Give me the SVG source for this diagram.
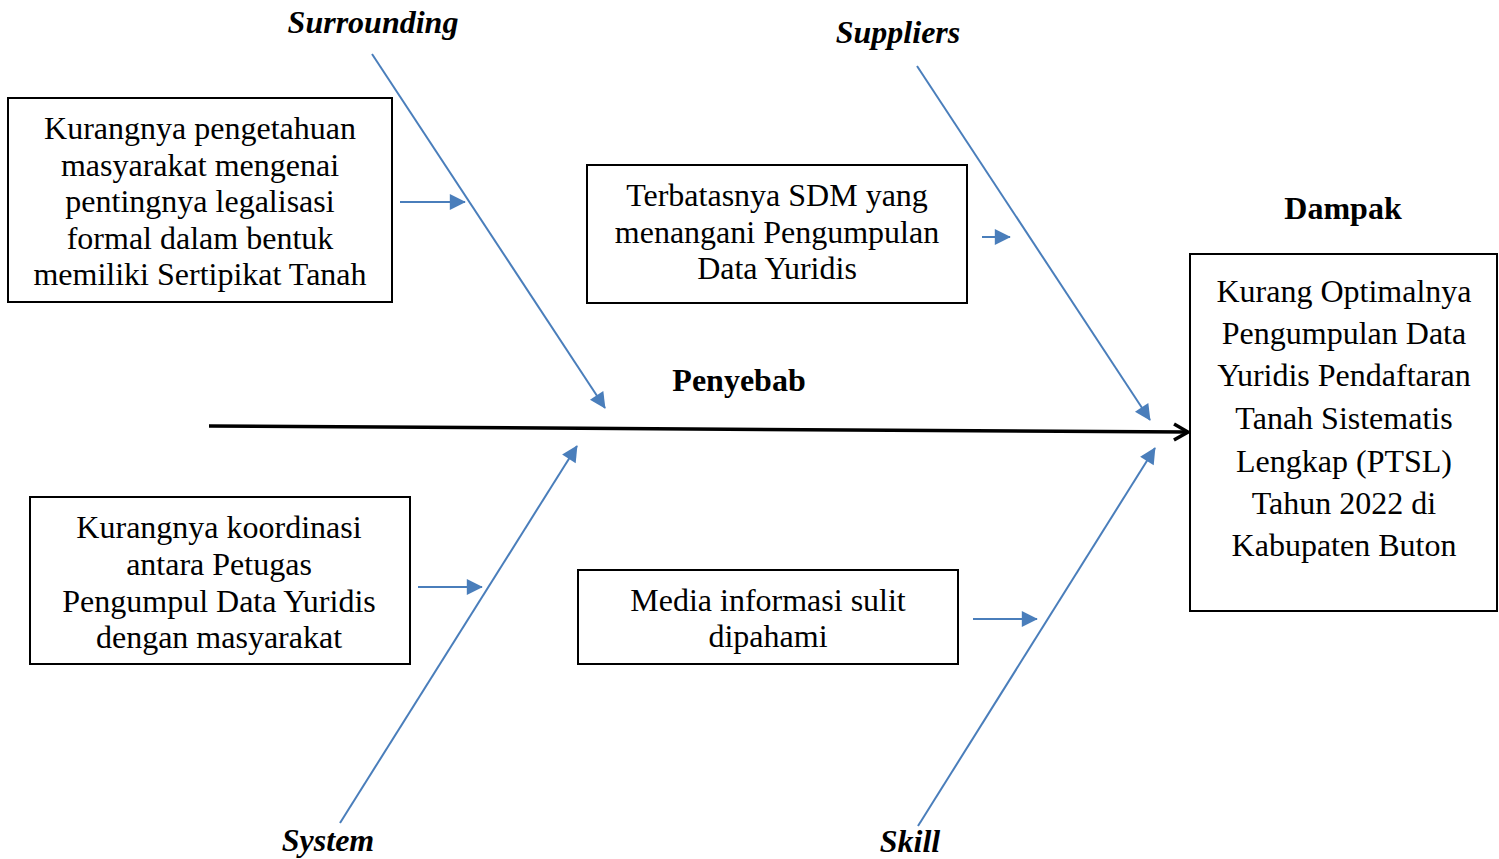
<svg xmlns="http://www.w3.org/2000/svg" width="1499" height="859" viewBox="0 0 1499 859">
<style>
.box{fill:#fff;stroke:#000;stroke-width:2}
.t{font-family:"Liberation Serif",serif;font-size:32px;fill:#000;text-anchor:middle}
.lbl{font-family:"Liberation Serif",serif;font-size:32px;font-weight:bold;font-style:italic;fill:#000;text-anchor:middle}
.hd{font-family:"Liberation Serif",serif;font-size:32px;font-weight:bold;fill:#000;text-anchor:middle}
.b{stroke:#4a7ebb;stroke-width:2;fill:none;marker-end:url(#ab)}
</style>
<defs>
<marker id="ab" viewBox="0 0 10 10" refX="9" refY="5" markerWidth="8" markerHeight="8" markerUnits="userSpaceOnUse" orient="auto" style="overflow:visible">
<path d="M0,0 L10,5 L0,10 Z" fill="#4a7ebb" transform="scale(2) translate(-5,-2.5)"/>
</marker>
<marker id="ak" viewBox="0 0 20 20" refX="18" refY="10" markerWidth="20" markerHeight="20" markerUnits="userSpaceOnUse" orient="auto">
<path d="M4,2 L18,10 L4,18" fill="none" stroke="#000" stroke-width="3.5"/>
</marker>
</defs>
<rect width="1499" height="859" fill="#fff"/>
<g id="connectors">
<line x1="209" y1="426" x2="1188" y2="432" stroke="#000" stroke-width="3.5" marker-end="url(#ak)"/>
<line class="b" x1="372" y1="54" x2="605" y2="408"/>
<line class="b" x1="917" y1="66" x2="1150" y2="420"/>
<line class="b" x1="340" y1="823" x2="577" y2="446"/>
<line class="b" x1="918" y1="826" x2="1155" y2="448"/>
<line class="b" x1="400" y1="202" x2="465" y2="202"/>
<line class="b" x1="982" y1="237" x2="1010" y2="237"/>
<line class="b" x1="418" y1="587" x2="482" y2="587"/>
<line class="b" x1="973" y1="619" x2="1037" y2="619"/>
</g>
<g id="labels">
<text class="lbl" x="373" y="33">Surrounding</text>
<text class="lbl" x="898" y="43">Suppliers</text>
<text class="lbl" x="328" y="851">System</text>
<text class="lbl" x="910" y="852">Skill</text>
<text class="hd" x="739" y="391">Penyebab</text>
<text class="hd" x="1343" y="219">Dampak</text>
</g>
<g id="node1">
<rect class="box" x="8" y="98" width="384" height="204"/>
<text class="t" x="200" y="139">Kurangnya pengetahuan</text>
<text class="t" x="200" y="176">masyarakat mengenai</text>
<text class="t" x="200" y="212">pentingnya legalisasi</text>
<text class="t" x="200" y="249">formal dalam bentuk</text>
<text class="t" x="200" y="285">memiliki Sertipikat Tanah</text>
</g>
<g id="node2">
<rect class="box" x="587" y="165" width="380" height="138"/>
<text class="t" x="777" y="206">Terbatasnya SDM yang</text>
<text class="t" x="777" y="243">menangani Pengumpulan</text>
<text class="t" x="777" y="279">Data Yuridis</text>
</g>
<g id="node3">
<rect class="box" x="30" y="497" width="380" height="167"/>
<text class="t" x="219" y="538">Kurangnya koordinasi</text>
<text class="t" x="219" y="575">antara Petugas</text>
<text class="t" x="219" y="612">Pengumpul Data Yuridis</text>
<text class="t" x="219" y="648">dengan masyarakat</text>
</g>
<g id="node4">
<rect class="box" x="578" y="570" width="380" height="94"/>
<text class="t" x="768" y="611">Media informasi sulit</text>
<text class="t" x="768" y="647">dipahami</text>
</g>
<g id="node5">
<rect class="box" x="1190" y="254" width="307" height="357"/>
<text class="t" x="1344" y="302">Kurang Optimalnya</text>
<text class="t" x="1344" y="344">Pengumpulan Data</text>
<text class="t" x="1344" y="386">Yuridis Pendaftaran</text>
<text class="t" x="1344" y="429">Tanah Sistematis</text>
<text class="t" x="1344" y="472">Lengkap (PTSL)</text>
<text class="t" x="1344" y="514">Tahun 2022 di</text>
<text class="t" x="1344" y="556">Kabupaten Buton</text>
</g>
</svg>
